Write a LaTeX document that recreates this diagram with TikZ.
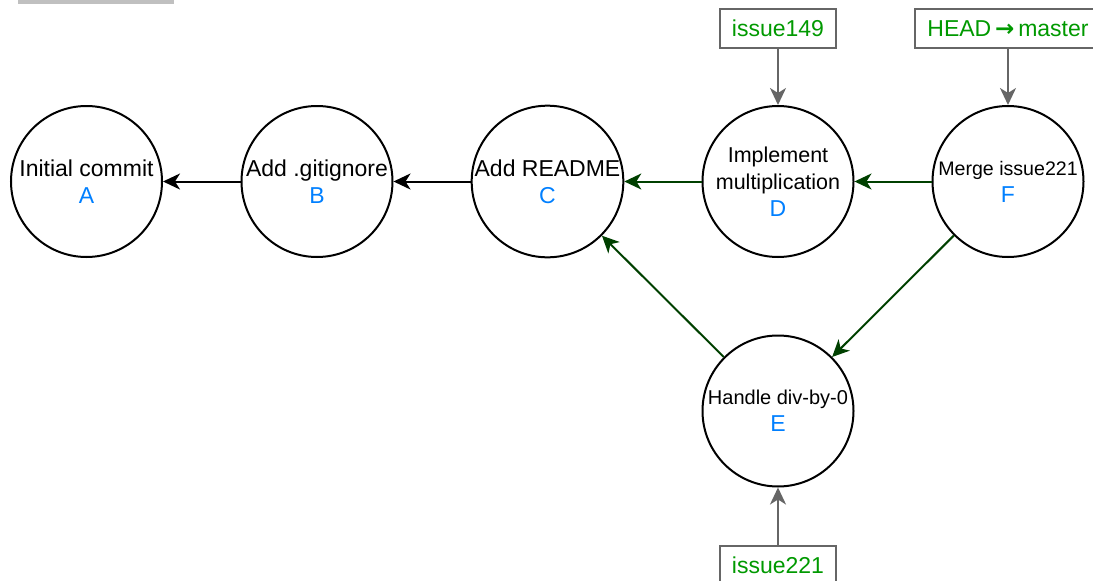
\documentclass[tikz,border=0pt]{standalone}
\usepackage{fontspec}
\setmainfont{Liberation Sans}
\newfontfamily\arrowfont{DejaVu Sans}
\usetikzlibrary{arrows.meta,positioning}

\definecolor{edgegreen}{RGB}{0,64,0}
\definecolor{refgray}{RGB}{102,102,102}
\definecolor{refgreen}{RGB}{0,153,0}
\definecolor{idblue}{RGB}{0,127,255}
\definecolor{bargray}{RGB}{192,192,192}

% commit id under the message
\newcommand{\commitid}[1]{{\fontsize{23}{27}\selectfont\textcolor{idblue}{#1}}}

\begin{document}
\begin{tikzpicture}[x=1pt,y=-1pt,
    commit/.style={circle, draw, line width=2pt, minimum size=151pt, inner sep=0pt,
        align=center, font=\fontsize{23}{27}\selectfont},
    branch/.style={draw=refgray, line width=2pt, text=refgreen, minimum height=39pt,
        inner xsep=12pt, font=\fontsize{23}{27}\selectfont},
    arrowline/.style={line width=2pt, -{Stealth[length=17pt,width=16pt,inset=5pt]}},
    parentedge/.style={arrowline, black},
    mergeedge/.style={arrowline, edgegreen},
    refedge/.style={arrowline, refgray}]
    \useasboundingbox (0,0) rectangle (1093,581);

    % cropped bar at the top
    \fill[bargray] (18,0) rectangle (174,4);

    % commits
    \node[commit] (A) at (86.5,181.5) {Initial commit\\\commitid{A}};
    \node[commit] (B) at (317,181.5) {Add .gitignore\\\commitid{B}};
    \node[commit] (C) at (547.5,181.5) {Add README\\\commitid{C}};
    \node[commit, font=\fontsize{21.5}{27}\selectfont] (D) at (778,181.5)
        {Implement\\multiplication\\\commitid{D}};
    \node[commit, font=\fontsize{20}{27}\selectfont] (E) at (778,411)
        {Handle div-by-0\\\commitid{E}};
    \node[commit, font=\fontsize{19.6}{27}\selectfont] (F) at (1008,181.5)
        {Merge issue221\\\commitid{F}};

    % branch labels
    \node[branch] (br149) at (778,28.5) {issue149};
    \node[branch, minimum width=178pt] (brmaster) at (1008,28.5)
        {HEAD\,{\arrowfont\bfseries →}\,master};
    \node[branch] (br221) at (778,565) {issue221};

    % parents
    \draw[parentedge] (B) -- (A);
    \draw[parentedge] (C) -- (B);
    \draw[mergeedge] (D) -- (C);
    \draw[mergeedge] (E) -- (C);
    \draw[mergeedge] (F) -- (D);
    \draw[mergeedge] (F) -- (E);

    % refs
    \draw[refedge] (br149) -- (D);
    \draw[refedge] (brmaster) -- (F);
    \draw[refedge] (br221) -- (E);
\end{tikzpicture}
\end{document}
